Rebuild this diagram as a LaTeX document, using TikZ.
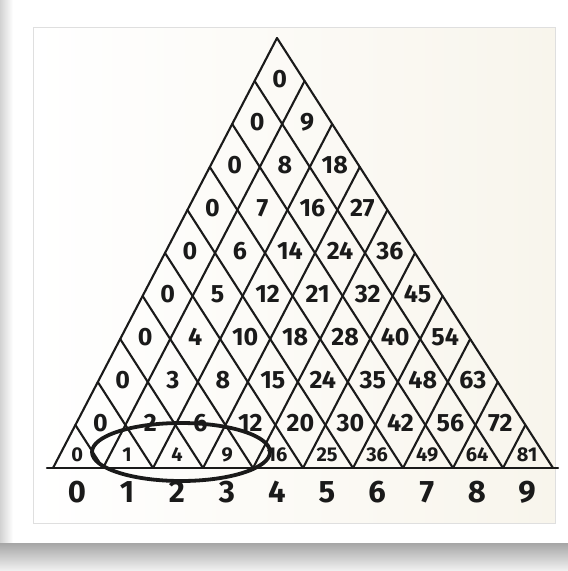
\documentclass[tikz,border=0pt]{standalone}
\usepackage{fontspec}
\setmainfont{Fira Sans}
\definecolor{ink}{HTML}{1A1A1A}
\definecolor{cream}{HTML}{F8F5EC}
\begin{document}
\begin{tikzpicture}[x=1pt,y=-1pt,
  gridline/.style={draw=ink,line width=2.1pt,line cap=round},
  cellnum/.style={text=ink,inner sep=0pt,font=\fontsize{25}{27}\selectfont\bfseries},
  tinynum/.style={text=ink,inner sep=0pt,font=\fontsize{20}{22}\selectfont\bfseries},
  basenum/.style={text=ink,inner sep=0pt,font=\fontsize{31}{33}\selectfont\bfseries},
  ring/.style={draw=ink,line width=3.8pt}]
\useasboundingbox (0,0) rectangle (568,571);
% page, card and shadow
\fill[white] (0,0) rectangle (568,571);
\shade[left color=gray!35,right color=white] (0,0) rectangle (13,543);
\shade[top color=gray!70,bottom color=gray!10] (0,543) rectangle (568,571);
\fill[white] (13,5) rectangle (568,543);
\shade[left color=white,right color=cream,draw=gray!25,line width=0.8pt] (33,27) rectangle (555,523);
% lattice points
\foreach \a in {0,...,10}{
  \foreach \b in {0,...,10}{
    \pgfmathtruncatemacro\s{\a+\b}
    \ifnum\s<11
      \coordinate (v-\a-\b) at ({53+50*\a+22.4*\b},{468-43*\b});
    \fi
  }
}
% lines parallel to the left side
\foreach \a in {0,...,9}{
  \pgfmathtruncatemacro\t{10-\a}
  \draw[gridline] (v-\a-0) -- (v-\a-\t);
}
% lines parallel to the right side
\foreach \c in {1,...,10}{
  \draw[gridline] (v-\c-0) -- (v-0-\c);
}
% base
\draw[gridline] ([xshift=-6pt]v-0-0) -- ([xshift=5pt]v-10-0);
% bottom triangles: squares
\foreach \k in {0,...,9}{
  \pgfmathtruncatemacro\v{\k*\k}
  \node[tinynum] (n-0-\k) at ({53+50*\k+50/3+22.4/3},{469-43/3}) {\v};
}
% diamonds: a*(a+h)
\foreach \h in {1,...,9}{
  \pgfmathtruncatemacro\m{9-\h}
  \foreach \a in {0,...,\m}{
    \pgfmathtruncatemacro\v{\a*(\a+\h)}
    \node[cellnum] (n-\h-\a) at ({53+50*\a+25+22.4*\h},{466-43*\h}) {\v};
  }
}
% base labels
\foreach \k in {0,...,9}{
  \node[basenum] (b-\k) at ({77+50*\k},{492}) {\k};
}
% ellipse
\draw[ring] (181,452) ellipse [x radius=89pt,y radius=29pt];
\end{tikzpicture}
\end{document}
